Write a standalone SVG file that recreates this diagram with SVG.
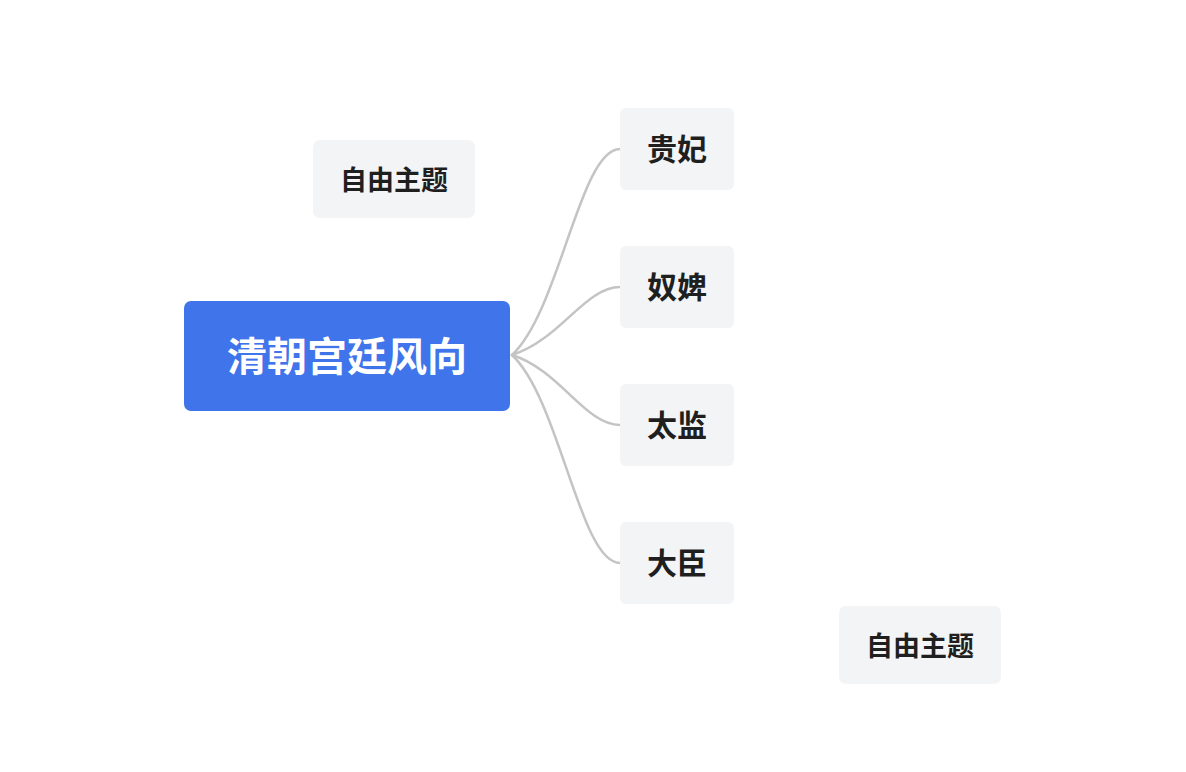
<svg xmlns="http://www.w3.org/2000/svg" width="1186" height="772" viewBox="0 0 1186 772">
<style>
.sub rect{fill:#F3F4F6}
.sub text{font-family:"Noto Sans CJK SC","Noto Sans",sans-serif;font-weight:bold;font-size:30px;fill:#1F1F1F;text-anchor:middle;dominant-baseline:central}
.free text{font-size:27px}
.root rect{fill:#4074EA}
.root text{font-family:"Noto Sans CJK SC","Noto Sans",sans-serif;font-weight:bold;font-size:40px;fill:#FFFFFF;text-anchor:middle;dominant-baseline:central}
#connectors path{fill:none;stroke:#C4C4C4;stroke-width:2.5;stroke-linecap:round}
</style>
<rect width="1186" height="772" fill="#FFFFFF"/>
<g id="connectors">
<path d="M512 355 C560 310 580 149 620 149"/>
<path d="M512 355 C560 340 585 287 620 287"/>
<path d="M512 355 C560 370 585 425 620 425"/>
<path d="M512 355 C560 400 580 563 620 563"/>
</g>
<g id="root" class="root"><rect x="184" y="301" width="326" height="110" rx="7"/><text x="347" y="354">清朝宫廷风向</text></g>
<g id="n1" class="sub"><rect x="620" y="108" width="114" height="82" rx="6"/><text x="677" y="147">贵妃</text></g>
<g id="n2" class="sub"><rect x="620" y="246" width="114" height="82" rx="6"/><text x="677" y="285">奴婢</text></g>
<g id="n3" class="sub"><rect x="620" y="384" width="114" height="82" rx="6"/><text x="677" y="423">太监</text></g>
<g id="n4" class="sub"><rect x="620" y="522" width="114" height="82" rx="6"/><text x="677" y="561">大臣</text></g>
<g id="free1" class="sub free"><rect x="313" y="140" width="162" height="78" rx="7"/><text x="394" y="178">自由主题</text></g>
<g id="free2" class="sub free"><rect x="839" y="606" width="162" height="78" rx="7"/><text x="920" y="644">自由主题</text></g>
</svg>
